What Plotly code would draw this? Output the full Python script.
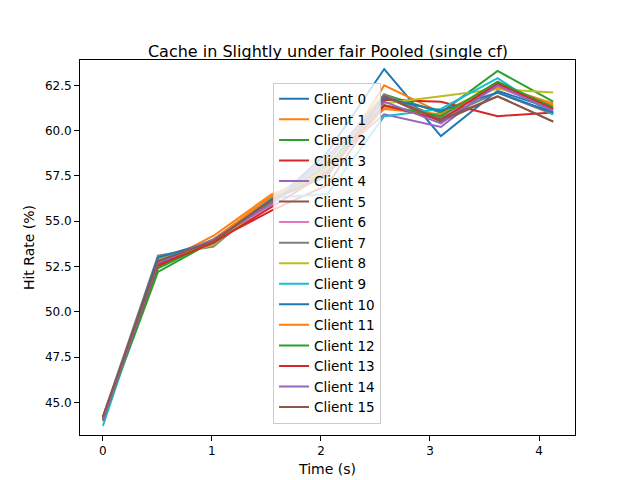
import plotly.graph_objects as go

# 时间点 (s)
times = [0, 0.505, 1.015, 1.55, 2.06, 2.58, 3.1, 3.62, 4.13]

# 每个客户端的命中率 (%)
client_0 = [44.0, 52.9, 53.8, 56.0, 58.8, 63.4, 59.7, 62.2, 61.2]
client_1 = [44.1, 52.6, 54.2, 56.5, 57.6, 62.5, 61.0, 62.5, 61.5]
client_2 = [44.0, 52.2, 53.9, 56.2, 58.0, 62.0, 61.0, 63.3, 61.6]
client_3 = [44.1, 52.5, 53.9, 55.6, 57.0, 61.7, 61.6, 60.8, 61.0]
client_4 = [44.1, 52.6, 54.0, 56.0, 58.2, 60.9, 60.2, 62.6, 61.0]
client_5 = [44.2, 52.7, 53.8, 56.1, 57.8, 61.9, 60.5, 61.9, 60.5]
client_6 = [44.0, 52.8, 53.9, 55.9, 58.5, 61.3, 60.8, 62.4, 61.2]
client_7 = [44.2, 53.1, 53.6, 56.3, 58.3, 62.0, 60.7, 62.1, 60.9]
client_8 = [44.0, 52.9, 53.7, 56.2, 57.9, 61.5, 61.9, 62.3, 62.1]
client_9 = [43.7, 52.8, 54.0, 56.3, 56.5, 60.8, 61.2, 62.9, 60.9]
client_10 = [44.0, 53.0, 53.9, 56.2, 57.5, 61.8, 61.1, 62.1, 61.0]
client_11 = [44.0, 52.7, 54.0, 56.4, 57.9, 61.2, 60.9, 62.4, 61.4]
client_12 = [44.0, 52.4, 53.9, 56.1, 58.1, 61.4, 60.8, 62.7, 61.3]
client_13 = [44.1, 52.6, 53.8, 55.8, 57.7, 61.4, 60.6, 62.6, 61.2]
client_14 = [44.0, 52.7, 54.0, 56.0, 58.6, 61.6, 60.4, 62.5, 61.1]
client_15 = [44.2, 52.8, 53.9, 56.2, 57.6, 61.9, 60.6, 61.9, 60.5]

clients = [client_0, client_1, client_2, client_3, client_4, client_5, client_6, client_7,
           client_8, client_9, client_10, client_11, client_12, client_13, client_14, client_15]

# matplotlib 默认配色
colors = ['#1f77b4', '#ff7f0e', '#2ca02c', '#d62728', '#9467bd',
          '#8c564b', '#e377c2', '#7f7f7f', '#bcbd22', '#17becf']

fig = go.Figure()
for i, vals in enumerate(clients):
    fig.add_trace(go.Scatter(
        x=times, y=vals, mode='lines', name=f'Client {i}',
        line=dict(color=colors[i % 10], width=2),
    ))

fig.update_layout(
    width=640, height=480,
    title=dict(text='Cache in Slightly under fair Pooled (single cf)', x=0.5, y=0.91,
               xanchor='center', yanchor='middle', font=dict(size=16, color='black')),
    font=dict(family='DejaVu Sans', size=12, color='black'),
    plot_bgcolor='white', paper_bgcolor='white',
    margin=dict(l=72, r=73, t=52, b=53),
    legend=dict(x=0.39, y=0.94, xanchor='left', yanchor='top',
                bgcolor='rgba(255,255,255,0.8)', bordercolor='#cccccc', borderwidth=1,
                font=dict(size=13.5), tracegroupgap=0),
)
fig.update_xaxes(
    title_text='Time (s)', title_standoff=6, range=[-0.21, 4.33], tickvals=[0, 1, 2, 3, 4],
    showgrid=False, zeroline=False, showline=True, linecolor='black', mirror=True,
    ticks='outside', tickcolor='black',
)
fig.update_yaxes(
    title_text='Hit Rate (%)', title_standoff=6, range=[43.2, 63.9],
    tickvals=[45.0, 47.5, 50.0, 52.5, 55.0, 57.5, 60.0, 62.5], tickformat='.1f',
    showgrid=False, zeroline=False, showline=True, linecolor='black', mirror=True,
    ticks='outside', tickcolor='black',
)

fig.write_html('out.html')
